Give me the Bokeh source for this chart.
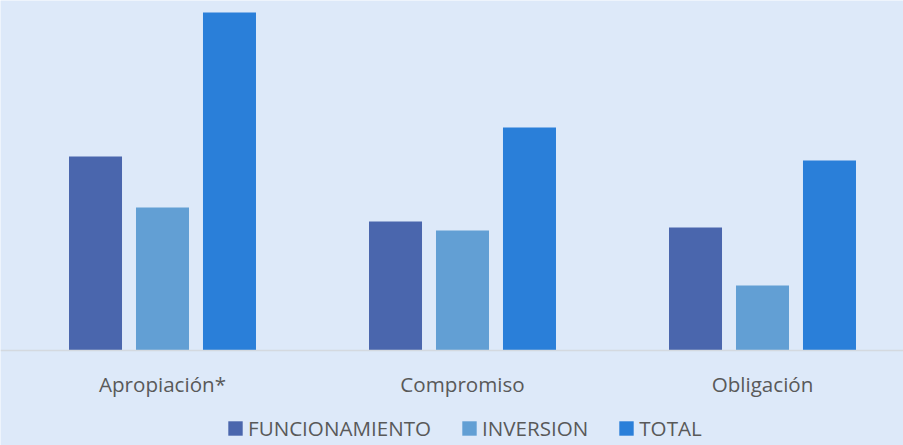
from bokeh.plotting import figure
from bokeh.models import Range1d, Legend, LegendItem, ColumnDataSource, Span
from bokeh.core.properties import value
from bokeh.embed import file_html
from bokeh.resources import INLINE

categories = ["Apropiación*", "Compromiso", "Obligación"]
funcionamiento = [194, 129, 123]
inversion = [143, 120, 65]
total = [338, 223, 190]
series_names = ["FUNCIONAMIENTO", "INVERSION", "TOTAL"]
colors = ["#4a66ad", "#629fd4", "#2a7fd9"]

BG = "#dde9f9"
TXT = "#595959"
FONT = "Open Sans"

p = figure(width=903, height=445, output_backend="svg", toolbar_location=None,
           x_range=Range1d(-12 / 300, 891 / 300), y_range=Range1d(-95, 350),
           min_border_left=0, min_border_right=0, min_border_top=0, min_border_bottom=0)
p.background_fill_color = BG
p.border_fill_color = BG
p.outline_line_color = None
p.xgrid.visible = False
p.ygrid.visible = False
p.xaxis.visible = False
p.yaxis.visible = False

centers = [i + 0.5 for i in range(len(categories))]
offsets = [-0.2233, 0.0, 0.2233]
width = 0.1767

# baseline
p.add_layout(Span(location=0, dimension="width", line_color="#d4d9df", line_width=1.3))

items = []
for vals, name, col, off in zip([funcionamiento, inversion, total], series_names, colors, offsets):
    src = ColumnDataSource(dict(x=[c + off for c in centers], top=vals))
    r = p.vbar(x="x", top="top", width=width, bottom=0, source=src,
               fill_color=col, line_color=None)
    items.append(LegendItem(label=name, renderers=[r]))

lab_src = ColumnDataSource(dict(x=centers, y=[-33] * len(categories), text=categories))
p.text(x="x", y="y", text="text", source=lab_src, text_align="center",
       text_baseline="middle", text_font=value(FONT), text_font_size="20.6px",
       text_color=TXT)

legend = Legend(items=items, orientation="horizontal", location=(226, 3))
legend.background_fill_alpha = 0
legend.border_line_color = None
legend.glyph_width = 18
legend.glyph_height = 18
legend.label_standoff = 4
legend.spacing = 29
legend.label_text_font = FONT
legend.label_text_font_size = "20.6px"
legend.label_text_color = TXT
legend.label_height = 20
legend.padding = 2
legend.margin = 0
p.add_layout(legend, "center")

open("out.html", "w").write(file_html(p, INLINE))
